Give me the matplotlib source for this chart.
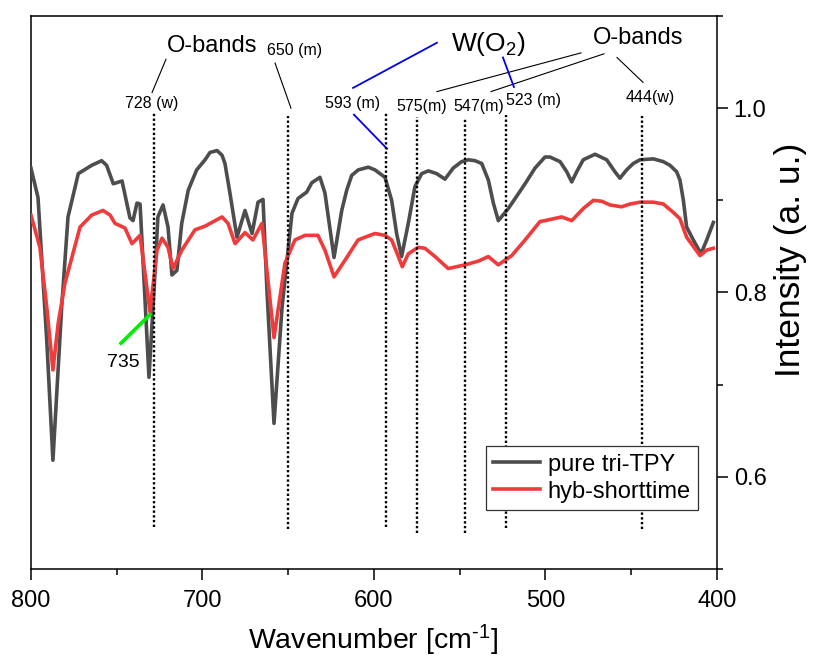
import matplotlib
matplotlib.use("Agg")
import matplotlib.pyplot as plt
from matplotlib.ticker import MultipleLocator

plt.rcParams['font.family'] = ['Liberation Sans', 'DejaVu Sans']
plt.rcParams['mathtext.fontset'] = 'custom'
plt.rcParams['mathtext.rm'] = 'Liberation Sans'
plt.rcParams['mathtext.it'] = 'Liberation Sans:italic'
plt.rcParams['mathtext.default'] = 'regular'

# pure tri-TPY (wavenumber, intensity)
pure_x = [800, 795.9, 790.8, 787.2, 782.1, 778.4, 772.4, 764.6, 758.8, 755.9,
          752.0, 746.9, 742.3, 740.5, 738.2, 736.4, 733.5, 731.2, 727.7, 726.0,
          723.0, 720.1, 717.8, 714.9, 712.1, 708.3, 703.4, 698.5, 695.6, 691.5,
          688.6, 686.9, 684.0, 679.9, 675.2, 671.1, 667.6, 664.7, 662.4, 658.3,
          653.6, 647.8, 644.3, 639.2, 636.3, 631.5, 628.6, 623.3, 618.8, 615.9,
          613.0, 609.2, 603.3, 599.4, 593.6, 589.7, 586.8, 583.9, 580.0, 576.1,
          572.2, 568.3, 563.5, 558.6, 553.8, 548.9, 545.0, 541.1, 537.2, 533.3,
          530.4, 527.5, 521.7, 511.9, 506.1, 500.3, 497.4, 491.5, 487.6, 484.7,
          481.8, 478.0, 471.1, 464.3, 459.5, 456.6, 452.7, 448.8, 444.9, 437.1,
          431.3, 427.4, 423.5, 421.6, 419.6, 417.7, 413.8, 409.3, 406.0, 402.1]
pure_y = [0.935, 0.903, 0.748, 0.618, 0.784, 0.882, 0.929, 0.938, 0.943, 0.938,
          0.918, 0.921, 0.881, 0.878, 0.897, 0.896, 0.792, 0.708, 0.821, 0.882,
          0.895, 0.871, 0.819, 0.824, 0.875, 0.911, 0.933, 0.944, 0.952, 0.954,
          0.949, 0.940, 0.908, 0.860, 0.889, 0.864, 0.898, 0.901, 0.802, 0.658,
          0.784, 0.886, 0.902, 0.909, 0.919, 0.925, 0.908, 0.838, 0.889, 0.911,
          0.927, 0.933, 0.936, 0.933, 0.925, 0.900, 0.864, 0.839, 0.875, 0.915,
          0.929, 0.932, 0.929, 0.923, 0.935, 0.942, 0.944, 0.943, 0.940, 0.922,
          0.897, 0.878, 0.891, 0.918, 0.935, 0.947, 0.947, 0.942, 0.931, 0.920,
          0.931, 0.944, 0.950, 0.944, 0.931, 0.924, 0.933, 0.940, 0.944, 0.945,
          0.942, 0.938, 0.931, 0.922, 0.900, 0.871, 0.857, 0.842, 0.857, 0.876]

# hyb-shorttime
hyb_x = [800, 794.8, 790.8, 787.2, 784.1, 780.2, 771.4, 764.6, 758.0, 753.9,
         751.0, 745.2, 741.1, 736.4, 730.6, 726.5, 723.6, 720.1, 717.2, 712.0,
         704.4, 698.5, 688.6, 685.1, 681.0, 675.2, 670.6, 665.3, 658.3, 651.9,
         646.1, 640.2, 632.7, 628.6, 623.3, 616.9, 609.3, 605.2, 599.4, 593.6,
         589.7, 585.8, 583.5, 580.0, 574.2, 570.3, 564.4, 556.7, 546.9, 539.2,
         533.3, 527.5, 519.7, 511.9, 503.2, 500.3, 490.6, 484.7, 478.0, 472.1,
         467.2, 462.4, 455.6, 450.7, 444.9, 437.1, 431.3, 425.5, 421.6, 417.7,
         413.8, 409.9, 406.0, 402.1]
hyb_y = [0.884, 0.849, 0.784, 0.716, 0.767, 0.810, 0.871, 0.884, 0.889, 0.884,
         0.875, 0.870, 0.853, 0.862, 0.779, 0.846, 0.859, 0.849, 0.826, 0.846,
         0.868, 0.872, 0.882, 0.875, 0.853, 0.865, 0.857, 0.875, 0.751, 0.832,
         0.857, 0.862, 0.862, 0.846, 0.817, 0.835, 0.857, 0.860, 0.864, 0.862,
         0.857, 0.839, 0.828, 0.842, 0.849, 0.848, 0.839, 0.826, 0.830, 0.834,
         0.839, 0.830, 0.840, 0.857, 0.877, 0.878, 0.882, 0.878, 0.891, 0.900,
         0.899, 0.895, 0.893, 0.896, 0.898, 0.898, 0.896, 0.887, 0.880, 0.860,
         0.850, 0.840, 0.846, 0.848]

# marked bands: position, top and bottom of the dotted line
band_pos = [728, 650, 593, 575, 547, 523, 444]
band_top = [0.995, 0.992, 0.995, 0.990, 0.989, 0.993, 0.991]
band_bot = [0.546, 0.543, 0.546, 0.539, 0.539, 0.544, 0.543]

fig = plt.figure(figsize=(8.13, 6.57), dpi=100)
ax = fig.add_axes([0.0381, 0.134, 0.8438, 0.8416])

ax.plot(pure_x, pure_y, color='#4d4d4d', lw=2.6, label='pure tri-TPY', zorder=3)
ax.plot(hyb_x, hyb_y, color='#ef3b3b', lw=2.6, label='hyb-shorttime', zorder=4)

for p, t, b in zip(band_pos, band_top, band_bot):
    ax.plot([p, p], [b, t], color='black', lw=1.7, ls=(0, (1, 1)), zorder=5)

# label texts
small = 11.5
ax.text(729.4, 1.005, '728 (w)', fontsize=small, ha='center', va='center')
ax.text(646.1, 1.063, '650 (m)', fontsize=small, ha='center', va='center')
ax.text(612.2, 1.005, '593 (m)', fontsize=small, ha='center', va='center')
ax.text(572.0, 1.002, '575(m)', fontsize=small, ha='center', va='center')
ax.text(538.8, 1.002, '547(m)', fontsize=small, ha='center', va='center')
ax.text(506.7, 1.008, '523 (m)', fontsize=small, ha='center', va='center')
ax.text(439.1, 1.012, '444(w)', fontsize=small, ha='center', va='center')
ax.text(694.5, 1.067, 'O-bands', fontsize=17, ha='center', va='center')
ax.text(446.1, 1.076, 'O-bands', fontsize=17, ha='center', va='center')
ax.text(533.5, 1.070, 'W(O$_2$)', fontsize=19, ha='center', va='center')
ax.text(746.4, 0.724, '735', fontsize=14, ha='center', va='center')

# pointer lines
ax.plot([721.3, 729.4], [1.053, 1.017], color='black', lw=0.8)
ax.plot([657.7, 648.4], [1.049, 1.000], color='black', lw=0.8)
ax.plot([479.3, 563.3], [1.060, 1.018], color='black', lw=0.8)
ax.plot([465.9, 531.8], [1.059, 1.018], color='black', lw=0.8)
ax.plot([458.3, 443.1], [1.055, 1.028], color='black', lw=0.8)
ax.plot([612.2, 563.3], [1.022, 1.071], color='#0000ee', lw=1.3)
ax.plot([611.7, 592.4], [0.993, 0.956], color='#0000ee', lw=1.3)
ax.plot([524.8, 518.4], [1.055, 1.023], color='#0000ee', lw=1.3)
ax.plot([747.5, 730.6], [0.745, 0.776], color='#00ee00', lw=2.6, zorder=6)

ax.set_xlim(800, 400)
ax.set_ylim(0.5, 1.1)
ax.xaxis.set_major_locator(MultipleLocator(100))
ax.xaxis.set_minor_locator(MultipleLocator(50))
ax.yaxis.set_minor_locator(MultipleLocator(0.1))
ax.yaxis.tick_right()
ax.yaxis.set_label_position('right')
ax.tick_params(axis='both', which='major', direction='out', length=8, width=1.1,
               labelsize=17)
ax.tick_params(axis='x', which='major', pad=7)
ax.tick_params(axis='y', which='major', pad=4)
ax.tick_params(axis='both', which='minor', direction='out', length=4.5, width=1.1)
ax.tick_params(axis='x', top=False, which='both')
ax.tick_params(axis='y', left=False, which='both')
ax.set_yticks([0.6, 0.8, 1.0])
ax.set_yticklabels(['0.6', '0.8', '1.0'])
for s in ax.spines.values():
    s.set_linewidth(1.1)

ax.set_xlabel(r'Wavenumber [cm$^{\text{-1}}$]', fontsize=20.5)
ax.xaxis.set_label_coords(0.499, -0.098)
ax.set_ylabel('Intensity (a. u.)', fontsize=25.5)
ax.yaxis.set_label_coords(1.083, 0.56)

leg = ax.legend(loc='lower right', bbox_to_anchor=(0.972, 0.107), fontsize=17,
                frameon=True, fancybox=False, borderaxespad=0, handlelength=2.0,
                borderpad=0.3, labelspacing=0.22, handletextpad=0.3)
leg.get_frame().set_edgecolor('#333333')
leg.get_frame().set_linewidth(0.9)
leg.get_frame().set_alpha(1)

fig.savefig('out.png', dpi=100)
